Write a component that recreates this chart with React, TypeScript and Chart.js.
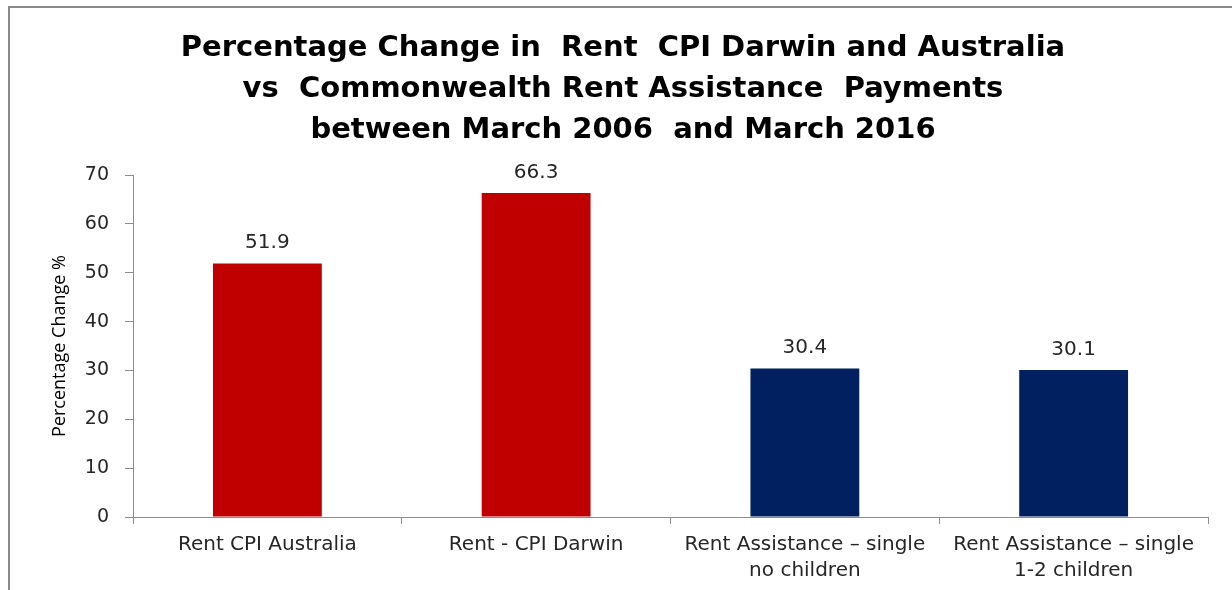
import React, { useEffect, useRef } from "react";
import { Chart, registerables } from "chart.js";

Chart.register(...registerables);

const categories: string[][] = [
  ["Rent CPI Australia"],
  ["Rent - CPI Darwin"],
  ["Rent Assistance \u2013 single", "no children"],
  ["Rent Assistance \u2013 single", "1-2 children"],
];
const values: number[] = [51.9, 66.3, 30.4, 30.1];
const barColors: string[] = ["#C00000", "#C00000", "#002060", "#002060"];
const titleLines: string[] = [
  "Percentage Change in  Rent  CPI Darwin and Australia",
  "vs  Commonwealth Rent Assistance  Payments",
  "between March 2006  and March 2016",
];
const yAxisTitle = "Percentage Change %";

const valueLabels = {
  id: "valueLabels",
  afterDatasetsDraw(chart: any) {
    const ctx = chart.ctx;
    const meta = chart.getDatasetMeta(0);
    ctx.save();
    ctx.font = "20px 'DejaVu Sans'";
    ctx.fillStyle = "#262626";
    ctx.textAlign = "center";
    ctx.textBaseline = "alphabetic";
    meta.data.forEach((bar: any, i: number) => {
      ctx.fillText(values[i].toFixed(1), bar.x, bar.y - 15);
    });
    ctx.restore();
  },
};

export default function App() {
  const ref = useRef<HTMLCanvasElement>(null);
  useEffect(() => {
    if (!ref.current) return;
    const chart = new Chart(ref.current, {
      type: "bar",
      data: {
        labels: categories,
        datasets: [
          {
            data: values,
            backgroundColor: barColors,
            borderWidth: 0,
            barPercentage: 0.81,
            categoryPercentage: 0.5,
          },
        ],
      },
      options: {
        responsive: false,
        animation: false,
        layout: { padding: { left: 38, right: 24, top: 0, bottom: 0 } },
        plugins: {
          legend: { display: false },
          tooltip: { enabled: false },
          title: {
            display: true,
            text: titleLines,
            color: "#000",
            font: { family: "'DejaVu Sans'", size: 29, weight: "bold", lineHeight: 41 / 29 },
            padding: { top: 28, bottom: 24 },
          },
        },
        scales: {
          x: {
            grid: {
              display: true,
              drawOnChartArea: false,
              drawTicks: true,
              tickLength: 7,
              color: "#8c8c8c",
              offset: true,
            },
            border: { color: "#8c8c8c", width: 1 },
            ticks: {
              color: "#262626",
              font: { family: "'DejaVu Sans'", size: 20, lineHeight: 1.3 },
              padding: 8,
              maxRotation: 0,
              autoSkip: false,
            },
            afterFit: (s: any) => {
              s.height = 73;
            },
          },
          y: {
            min: 0,
            max: 70,
            grid: {
              display: true,
              drawOnChartArea: false,
              drawTicks: true,
              tickLength: 8,
              color: "#8c8c8c",
            },
            border: { color: "#8c8c8c", width: 1 },
            ticks: {
              stepSize: 10,
              color: "#262626",
              font: { family: "'DejaVu Sans'", size: 19 },
              padding: 16,
            },
            title: {
              display: true,
              text: yAxisTitle,
              color: "#000",
              font: { family: "'Open Sans'", size: 18 },
              padding: { top: 11, bottom: 0 },
            },
            afterFit: (s: any) => {
              s.width = 95;
            },
          },
        },
      },
      plugins: [valueLabels],
    });
    return () => chart.destroy();
  }, []);
  return (
    <div style={{ position: "fixed", left: 0, top: 0, width: 1232, height: 590, background: "#fff", overflow: "hidden" }}>
      <div
        style={{
          position: "absolute",
          left: 8,
          top: 6,
          width: 1240,
          height: 600,
          borderTop: "2px solid #8a8a8a",
          borderLeft: "2px solid #8a8a8a",
        }}
      />
      <canvas ref={ref} width={1232} height={590} style={{ position: "absolute", left: 0, top: 0 }} />
    </div>
  );
}
